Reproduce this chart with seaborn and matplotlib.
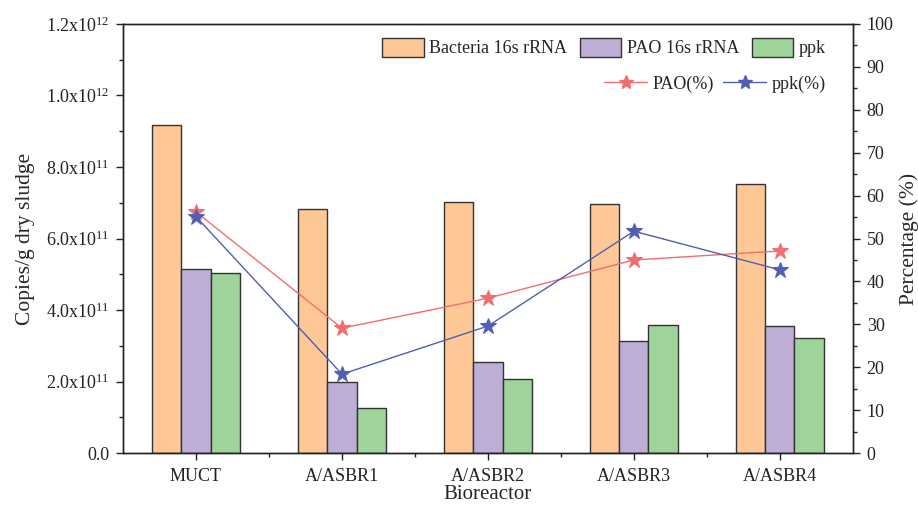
import numpy as np
import pandas as pd
import matplotlib
matplotlib.use("Agg")
import matplotlib.pyplot as plt
import seaborn as sns
from matplotlib.patches import Patch
from matplotlib.lines import Line2D
from matplotlib.ticker import MultipleLocator, FixedLocator

reactors = ["MUCT", "A/ASBR1", "A/ASBR2", "A/ASBR3", "A/ASBR4"]
bacteria = [9.18e11, 6.83e11, 7.02e11, 6.97e11, 7.52e11]
pao_rna = [5.15e11, 1.99e11, 2.55e11, 3.13e11, 3.55e11]
ppk = [5.04e11, 1.26e11, 2.08e11, 3.58e11, 3.22e11]
pao_pct = [56.2, 29.1, 36.1, 45.0, 47.1]
ppk_pct = [55.1, 18.4, 29.6, 51.7, 42.7]

series = ["Bacteria 16s rRNA", "PAO 16s rRNA", "ppk"]
colors = ["#FDC896", "#BEADD5", "#9ED39A"]

df = pd.DataFrame({
    "Bioreactor": reactors * 3,
    "value": bacteria + pao_rna + ppk,
    "gene": [s for s in series for _ in reactors],
})

sns.set_style("ticks")
plt.rcParams["font.family"] = ["Liberation Serif", "DejaVu Serif"]
plt.rcParams["mathtext.fontset"] = "custom"
plt.rcParams["mathtext.rm"] = "Liberation Serif"
plt.rcParams["mathtext.it"] = "Liberation Serif:italic"

fig = plt.figure(figsize=(9.18, 5.08), dpi=100)
ax = fig.add_axes([0.134, 0.108, 0.795, 0.845])

sns.barplot(data=df, x="Bioreactor", y="value", hue="gene", palette=colors,
            width=0.6, edgecolor="#333333", linewidth=1.0, saturation=1,
            legend=False, ax=ax)

ax.set_xlim(-0.5, 4.5)
ax.set_ylim(0, 1.2e12)
ax.yaxis.set_minor_locator(MultipleLocator(1e11))
yvals = np.arange(0, 1.21e12, 2e11)
ylabels = ["0.0"]
for v in yvals[1:]:
    e = int(np.floor(np.log10(v)))
    ylabels.append(r"$\mathregular{%.1fx10^{%d}}$" % (v / 10 ** e, e))
ax.set_yticks(yvals)
ax.set_yticklabels(ylabels)
ax.xaxis.set_minor_locator(FixedLocator([0.5, 1.5, 2.5, 3.5]))
ax.tick_params(axis="both", which="major", direction="out", length=5, width=1,
               labelsize=13, colors="#222222", pad=5)
ax.tick_params(axis="x", which="major", pad=6)
ax.tick_params(axis="both", which="minor", direction="out", length=3, width=1)
ax.set_xlabel("Bioreactor", fontsize=15, labelpad=0)
ax.set_ylabel("Copies/g dry sludge", fontsize=15.5, labelpad=8)

ax2 = ax.twinx()
x = np.arange(len(reactors))
sns.lineplot(x=x, y=pao_pct, color="#F26D6D", marker="*", markersize=12,
             markeredgecolor="#F26D6D", linewidth=1.0, ax=ax2)
sns.lineplot(x=x, y=ppk_pct, color="#4F5FB3", marker="*", markersize=12,
             markeredgecolor="#4F5FB3", linewidth=1.0, ax=ax2)
ax2.set_ylim(0, 100)
ax2.yaxis.set_major_locator(MultipleLocator(10))
ax2.yaxis.set_minor_locator(MultipleLocator(5))
ax2.tick_params(axis="y", which="major", direction="out", length=5, width=1,
                labelsize=13, colors="#222222", pad=5)
ax2.tick_params(axis="y", which="minor", direction="out", length=3, width=1)
ax2.set_ylabel("Percentage (%)", fontsize=15.5, labelpad=4)
ax.set_xlim(-0.5, 4.5)

for a in (ax, ax2):
    for s in a.spines.values():
        s.set_visible(True)
        s.set_linewidth(1.0)
        s.set_color("#222222")

bar_handles = [Patch(facecolor=c, edgecolor="#333333", linewidth=1.0, label=s)
               for c, s in zip(colors, series)]
leg1 = ax2.legend(handles=bar_handles, loc="upper right", bbox_to_anchor=(0.973, 0.985), ncol=3,
                  frameon=False, fontsize=13, handlelength=2.3, handleheight=1.3,
                  columnspacing=0.7, handletextpad=0.3, borderaxespad=0)
ax2.add_artist(leg1)
line_handles = [Line2D([], [], color="#F26D6D", marker="*", markersize=10, linewidth=1.0, label="PAO(%)"),
                Line2D([], [], color="#4F5FB3", marker="*", markersize=10, linewidth=1.0, label="ppk(%)")]
ax2.legend(handles=line_handles, loc="upper right", bbox_to_anchor=(0.973, 0.897), ncol=2,
           frameon=False, fontsize=13, handlelength=2.4, columnspacing=0.5,
           handletextpad=0.3, borderaxespad=0)

fig.savefig("out.png", dpi=100)
